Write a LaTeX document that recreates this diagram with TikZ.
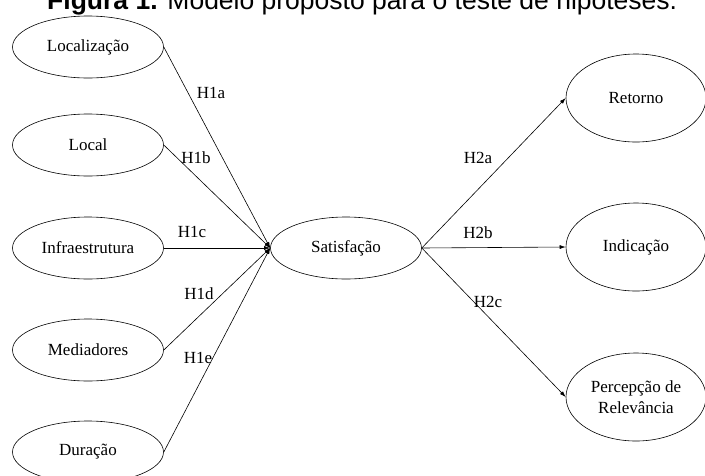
\documentclass[tikz,border=0pt]{standalone}
\usepackage{fontspec}
\setmainfont{Liberation Serif}
\newfontfamily\titlefont{Liberation Sans}
\usetikzlibrary{shapes.geometric,arrows.meta}
\tikzset{
	var/.style={draw, ellipse, line width=0.6pt, minimum width=151pt, minimum height=62pt, inner sep=0pt, align=center, font=\fontsize{17}{21}\selectfont},
	outvar/.style={var, minimum width=140pt, minimum height=88pt},
	hyp/.style={-{Latex[length=6pt,width=4pt]}, line width=0.6pt},
	lbl/.style={inner sep=0pt, font=\fontsize{17}{21}\selectfont},
}
\begin{document}
\begin{tikzpicture}[x=1pt,y=-1pt]
	\useasboundingbox (0,0) rectangle (705,475);
	\node[anchor=base west, inner sep=0pt, font=\titlefont\fontsize{26.5}{30}\selectfont] (title) at (47,9) {\textbf{Figura 1.} Modelo proposto para o teste de hipóteses.};
	% antecedentes
	\node[var] (loc) at (88,47) {Localização};
	\node[var] (local) at (88,145) {Local};
	\node[var] (infra) at (88,248) {Infraestrutura};
	\node[var] (med) at (88,350) {Mediadores};
	\node[var] (dur) at (88,452) {Duração};
	\node[var] (sat) at (346,248) {Satisfação};
	% consequentes
	\node[outvar] (ret) at (636,98) {Retorno};
	\node[outvar] (ind) at (636,247) {Indicação};
	\node[outvar] (perc) at (636,397) {Percepção de\\Relevância};
	\draw[hyp] (loc.east) -- (sat.west);
	\draw[hyp] (local.east) -- (sat.west);
	\draw[hyp] (infra.east) -- (sat.west);
	\draw[hyp] (med.east) -- (sat.west);
	\draw[hyp] (dur.east) -- (sat.west);
	\draw[hyp] (sat.east) -- (ret.west);
	\draw[hyp] (sat.east) -- (ind.west);
	\draw[hyp] (sat.east) -- (perc.west);
	\node[lbl] (h1a) at (211,93) {H1a};
	\node[lbl] (h1b) at (196,158) {H1b};
	\node[lbl] (h1c) at (192,232) {H1c};
	\node[lbl] (h1d) at (199,294) {H1d};
	\node[lbl] (h1e) at (198,358) {H1e};
	\node[lbl] (h2a) at (478,158) {H2a};
	\node[lbl] (h2b) at (478,233) {H2b};
	\node[lbl] (h2c) at (488,302) {H2c};
\end{tikzpicture}
\end{document}
